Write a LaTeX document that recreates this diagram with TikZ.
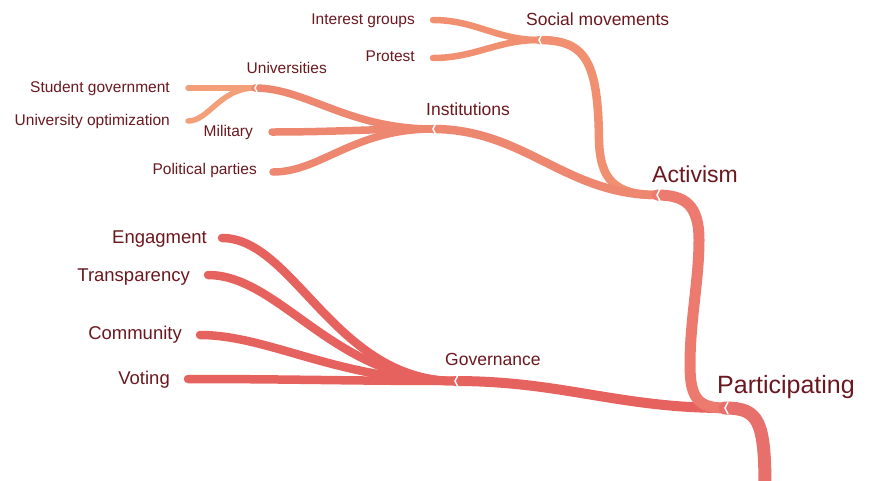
\documentclass[tikz,border=0pt]{standalone}
\usepackage{fontspec}
\setmainfont{Liberation Sans}
\usepackage{tikz}
\usetikzlibrary{positioning, calc}
\definecolor{labelred}{HTML}{6A181E}
\definecolor{trunkred}{HTML}{E8706C}
\definecolor{govred}{HTML}{E6625F}
\definecolor{actred}{HTML}{EC7A6E}
\definecolor{instred}{HTML}{EE8770}
\definecolor{socorange}{HTML}{F09070}
\definecolor{uniorange}{HTML}{F3A078}
\tikzset{
    branch/.style={line width=#1, line cap=round, line join=round},
    topic/.style={text=labelred, inner sep=0pt},
    notch/.style={draw=white, line width=1.5pt},
}

\begin{document}
\begin{tikzpicture}[x=1pt, y=-1pt]
    \tikzset{
      rootlabel/.style={topic, font=\fontsize{25}{30}\selectfont},
      mainlabel/.style={topic, font=\fontsize{23}{28}\selectfont},
      sublabel/.style={topic, font=\fontsize{17.5}{21}\selectfont},
      govlabel/.style={topic, font=\fontsize{18.5}{22}\selectfont},
      leaflabel/.style={topic, font=\fontsize{15.5}{19}\selectfont},
      fan/.style={out=180, in=0, out distance=#1, in distance=0.6*#1}
    }
    \useasboundingbox (0,0) rectangle (872,480);

    \coordinate (root) at (765,487);
    \coordinate (pj) at (725,408);
    \coordinate (aj) at (657,195);
    \coordinate (gj) at (455,381);
    \coordinate (sj) at (539,40);
    \coordinate (ij) at (433,129);
    \coordinate (uj) at (255,88);

    \coordinate (interest-e) at (433,20);
    \coordinate (protest-e) at (433,58);
    \coordinate (military-e) at (272,132);
    \coordinate (parties-e) at (273,172);
    \coordinate (student-e) at (188,88);
    \coordinate (optim-e) at (188,121);
    \coordinate (engag-e) at (222,238);
    \coordinate (transp-e) at (208,275);
    \coordinate (commun-e) at (200,335);
    \coordinate (voting-e) at (188,379);

    \node[rootlabel, anchor=base west] (participating) at (717,393) {Participating};
    \node[mainlabel, anchor=base west] (activism) at (652,182) {Activism};
    \node[sublabel, anchor=base west] (governance) at (445,365) {Governance};
    \node[sublabel, anchor=base west] (institutions) at (426,115) {Institutions};
    \node[sublabel, anchor=base west] (social) at (526,25) {Social movements};

    \node[leaflabel, anchor=base east] (interest) at (415,24) {Interest groups};
    \node[leaflabel, anchor=base east] (protest) at (415,61) {Protest};
    \node[leaflabel, anchor=base east] (universities) at (327,73) {Universities};
    \node[leaflabel, anchor=base east] (student) at (170,92) {Student government};
    \node[leaflabel, anchor=base east] (optim) at (170,125) {University optimization};
    \node[leaflabel, anchor=base east] (military) at (253,136) {Military};
    \node[leaflabel, anchor=base east] (parties) at (257,174) {Political parties};

    \node[govlabel, anchor=base east] (engag) at (207,243) {Engagment};
    \node[govlabel, anchor=base east] (transp) at (190,281) {Transparency};
    \node[govlabel, anchor=base east] (commun) at (182,339) {Community};
    \node[govlabel, anchor=base east] (voting) at (170,384) {Voting};

    \draw[branch=5.5pt, uniorange] (uj) to[out=180, in=0] (student-e);
    \draw[branch=5.5pt, uniorange] (uj) to[fan=35pt] (optim-e);

    \draw[branch=7.5pt, instred] (ij) to[fan=85pt] (uj);
    \draw[branch=7.5pt, instred] (ij) to[out=180, in=0] (military-e);
    \draw[branch=7.5pt, instred] (ij) to[fan=80pt] (parties-e);

    \draw[branch=6.5pt, socorange] (sj) to[out=180, in=0] (interest-e);
    \draw[branch=6.5pt, socorange] (sj) to[out=180, in=0] (protest-e);

    \draw[branch=8.5pt, govred] (gj) to[fan=120pt] (engag-e);
    \draw[branch=8.5pt, govred] (gj) to[fan=120pt] (transp-e);
    \draw[branch=8.5pt, govred] (gj) to[fan=115pt] (commun-e);
    \draw[branch=8.5pt, govred] (gj) to[out=180, in=0] (voting-e);

    \draw[branch=8.5pt, socorange] (aj) .. controls (615,195) and (600,180) .. (599,140)
      .. controls (598,60) and (585,40) .. (sj);
    \draw[branch=8.5pt, instred] (aj) to[out=180, in=0] (ij);

    \draw[branch=10pt, govred] (pj) to[out=180, in=0] (gj);
    \draw[branch=11pt, actred] (pj) .. controls (698,408) and (690,398) .. (690,365)
      .. controls (690,320) and (699,280) .. (699,240)
      .. controls (699,205) and (685,195) .. (aj);

    \draw[branch=13pt, trunkred] (root) .. controls (765,420) and (758,408) .. (pj);

    \foreach \j in {pj, aj, gj, sj, ij, uj}
      \draw[notch] ([shift={(3,-6)}]\j) -- (\j) -- ([shift={(3,6)}]\j);
  \end{tikzpicture}
\end{document}
